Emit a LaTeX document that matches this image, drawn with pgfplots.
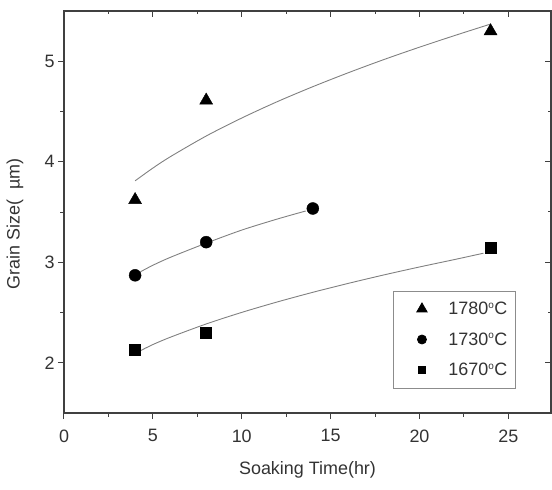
\documentclass[border=0pt]{standalone}
\usepackage{fontspec}
\setmainfont{Liberation Sans}
\usepackage{pgfplots}
\pgfplotsset{compat=1.18}
\begin{document}
\begin{tikzpicture}
\pgfplotsset{
  common/.style={
    scale only axis, width=487bp, height=402bp,
    at={(0,0)}, anchor=south west,
    xmin=0, xmax=27.4, ymin=1.5, ymax=5.5,
    xtick={0,5,10,15,20,25}, ytick={2,3,4,5},
    minor x tick num=1, minor y tick num=1,
    major tick length=6bp, minor tick length=3.5bp,
    axis line style={line width=1.1bp, black!75},
    every tick/.style={line width=1bp, black!75},
    /pgf/number format/assume math mode=true,
    tick label style={font=\fontsize{18}{21}\selectfont, text=black!80},
  }
}
\begin{axis}[common,
  xtick pos=left, ytick pos=left, tick align=outside,
  xticklabel style={yshift=-7bp},
  xlabel={Soaking Time(hr)},
  ylabel={Grain Size(\ \ \textmu m)},
  label style={font=\fontsize{18}{21}\selectfont, text=black!80},
  xlabel style={at={(axis description cs:0.5,0)}, anchor=center, yshift=-57bp},
  ylabel style={at={(axis description cs:0,0.5)}, anchor=center, rotate=0, xshift=-12bp, yshift=49bp},
  legend style={at={(axis cs:18.52,2.718)}, anchor=north west, draw=black!45, line width=0.8bp,
    font=\fontsize{18}{21}\selectfont, text=black!80, inner xsep=6bp, inner ysep=9bp, row sep=12.5bp,
    legend cell align=left},
  legend image code/.code={\path (0bp,0bp) (46bp,0bp); \draw[#1] plot coordinates {(22bp,0bp)};},
]
% fitted curves
\addplot[forget plot, black!50, line width=0.9bp, smooth] coordinates {
 (4,3.810) (5,3.937) (6,4.052) (8,4.256) (10,4.435) (12,4.598) (14,4.747) (16,4.886) (18,5.017) (20,5.140) (22,5.257) (24,5.370)};
\addplot[forget plot, black!50, line width=0.9bp, smooth] coordinates {
 (4.3,2.905) (5,2.97) (6,3.05) (8,3.19) (10,3.32) (12,3.43) (13.6,3.51)};
\addplot[forget plot, black!50, line width=0.9bp, smooth] coordinates {
 (4.3,2.120) (5,2.181) (6,2.255) (8,2.386) (10,2.501) (12,2.605) (14,2.701) (16,2.790) (18,2.874) (20,2.953) (22,3.028) (23.6,3.090)};
% data
\addplot[forget plot, only marks, mark=triangle*, mark size=7.5bp, black] coordinates {(4,3.62) (8,4.61) (24,5.30)};
\addplot[forget plot, only marks, mark=*, mark size=6bp, black] coordinates {(4,2.87) (8,3.20) (14,3.535)};
\addplot[forget plot, only marks, mark=square*, mark size=5.5bp, black] coordinates {(4,2.13) (8,2.30) (24,3.14)};
% legend entries
\addlegendimage{only marks, mark=triangle*, mark size=6bp, black}
\addlegendentry{1780\textsuperscript{\fontsize{10}{10}\selectfont o}C}
\addlegendimage{only marks, mark=*, mark size=4.5bp, black}
\addlegendentry{1730\textsuperscript{\fontsize{10}{10}\selectfont o}C}
\addlegendimage{only marks, mark=square*, mark size=3.5bp, black}
\addlegendentry{1670\textsuperscript{\fontsize{10}{10}\selectfont o}C}
\end{axis}
\begin{axis}[common,
  xtick pos=right, ytick pos=right, tick align=inside,
  xticklabels={}, yticklabels={},
]
\end{axis}
\pgfresetboundingbox
\useasboundingbox (-64bp,-77bp) rectangle (488bp,413bp);
\end{tikzpicture}
\end{document}
